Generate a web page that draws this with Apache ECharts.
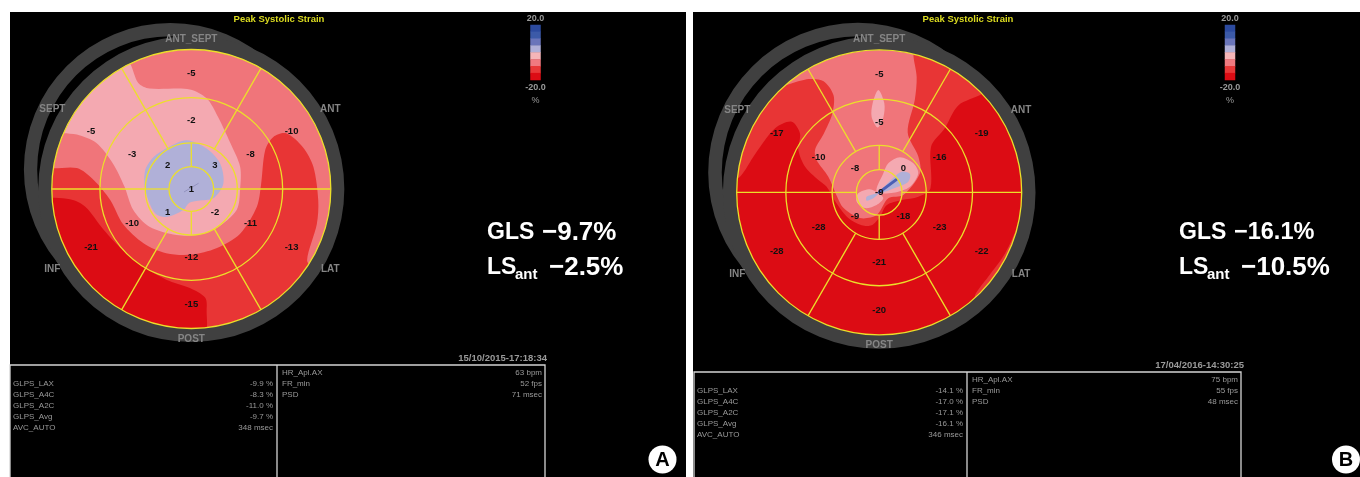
<!DOCTYPE html>
<html>
<head>
<meta charset="utf-8">
<style>
  html, body { margin: 0; padding: 0; background: #fff; }
  #chart { width: 1360px; height: 477px; }
</style>
<script src="https://cdn.jsdelivr.net/npm/echarts@6/dist/echarts.min.js"></script>
</head>
<body>
<div id="chart"></div>
<script>
// segment values, clockwise from the top of each ring
const basalA = [-5, -10, -13, -15, -21, -5]
const midA = [-2, -8, -11, -12, -10, -3]
const apicalA = [3, -2, 1, 2]
const apexA = [1]
const basalB = [-5, -19, -22, -20, -28, -17]
const midB = [-5, -16, -23, -21, -28, -10]
const apicalB = [0, -18, -9, -8]
const apexB = [-9]

const wallNames = ['ANT_SEPT', 'ANT', 'LAT', 'POST', 'INF', 'SEPT']
const scaleSteps = ['#2c4a9e', '#3c5aa8', '#6a75ba', '#b0b0d8', '#f5b5b8', '#f07a80', '#e83838', '#dc0c14']
const scaleEnds = ['20.0', '-20.0', '%']
const chartTitle = 'Peak Systolic Strain'

const leftLabels = ['GLPS_LAX', 'GLPS_A4C', 'GLPS_A2C', 'GLPS_Avg', 'AVC_AUTO']
const rightLabels = ['HR_Apl.AX', 'FR_min', 'PSD']
const leftValuesA = ['-9.9 %', '-8.3 %', '-11.0 %', '-9.7 %', '348 msec']
const rightValuesA = ['63 bpm', '52 fps', '71 msec']
const leftValuesB = ['-14.1 %', '-17.0 %', '-17.1 %', '-16.1 %', '346 msec']
const rightValuesB = ['75 bpm', '55 fps', '48 msec']

// strain isolines, x/y in percent of the outer radius
const darkA = [[-104, -8], [-87, -7.4], [-76, -12.7], [-63, -29], [-49, -44], [-34, -56], [-18, -65], [-1, -71], [10, -78], [11, -87], [9, -104], [-30, -101], [-60, -86], [-85, -60], [-100, -30]]
const salmonA = [[-104, 16], [-82, 15], [-70, 6.5], [-58, -8], [-49, -25], [-34, -39], [-18, -46], [0, -47], [18, -42.5], [35, -32], [47, -12.7], [50, 3], [53, 28], [59, 37.5], [68, 40], [80, 30], [87.5, 16], [91, -8], [90, -25], [83, -51], [88, -56], [103, -20], [100, 30], [80, 68], [40, 97], [-40, 97], [-80, 68], [-102, 30]]
const pinkA = [[-44, 90], [-38, 76], [-30, 72], [-1, 71.4], [11, 65], [19, 52], [28, 33], [35, 16], [35, 0], [32.5, -15], [18, -28], [4, -33], [-10.5, -33], [-30, -27], [-41.6, -15], [-48, 2], [-56, 18], [-68, 33], [-82, 39], [-92, 40], [-98, 42], [-84, 68], [-66, 86], [-50, 94]]
const lavenderA = [[-3.3, 35], [11, 29], [20.6, 18.4], [23, 4], [15.8, -6.7], [5, -8.4], [-1.4, -9.8], [-5.7, -15], [-17.6, -20], [-26, -17.4], [-33, -0.7], [-33, 13.6], [-27, 23], [-16.5, 30]]

const redB = [[-104, 10], [-97.7, 11], [-87, 27], [-73, 45], [-61.4, 49.6], [-55.6, 41.4], [-56.7, 29.7], [-52, 18], [-42.7, 8.7], [-36.9, 4], [-30, -7.7], [-21.7, -18], [-12.3, -23], [-5.3, -23], [0.6, -17], [5.2, -9], [15.8, -5.4], [27.5, -3], [36, 3], [36.4, 32], [46, 45], [55.5, 61], [72, 69], [78, 75], [40, 97], [0, 105], [-40, 97], [-78, 72], [-95, 42]]
const rimRedB = [[101, -5.4], [97.6, -21.8], [88.3, -42.8], [76.6, -59], [67, -73], [75, -73], [92, -50], [104, -22], [105, -3]]
const salmonB = [[-72, 74], [-49.7, 79.5], [-39, 78], [-32, 68], [-33, 55], [-39, 41], [-45, 30], [-44, 22.7], [-35.7, 11], [-30, -2], [-25, -11], [-13.5, -18], [-1.8, -15.9], [6.4, -4.1], [17, -1.8], [28.6, 13.4], [27.5, 25], [20, 42], [25, 65], [26.3, 81], [24, 97], [26, 103], [0, 105], [-30, 102], [-55, 88]]
const dropB = [[-0.6, 71.8], [-4.6, 62.5], [-5.3, 53], [-1, 45.6], [3, 53], [3.6, 62.5]]
const upperLobeB = [[-1.8, 0.5], [2.9, 13.4], [6.4, 20.4], [14.6, 24.6], [24, 20.4], [27.4, 13.4], [21.6, 4], [9.9, -0.2]]
const lowerLobeB = [[-0.6, -0.6], [2.9, -4.1], [-1.8, -8.8], [-10, -11], [-15.8, -6.5], [-14.7, -0.6], [-6.5, 2.2]]
const upperBlueB = [[0.6, -0.2], [8.8, 9.2], [15.8, 14.5], [21.6, 12.9], [20.4, 7.5], [12.3, 3.6]]
const lowerBlueB = [[-0.6, -0.6], [-4.1, -4.1], [-8.8, -5.8], [-8.8, -3]]

const RED = '#e83535'
const DARK = '#dc0c14'
const SALMON = '#f0757a'
const PINK = '#f4a9b1'
const LAVENDER = '#b0b0d8'
const GRAY = '#404040'
const YELLOW = '#ecdf2a'
const BOX = '#d4d4d4'
const TXT = '#9a9a9a'

const panels = [
  {
    cx: 191.3, cy: 189, R: 139.5, base: RED,
    basal: basalA, mid: midA, apical: apicalA, apex: apexA,
    contours: [[darkA, DARK], [salmonA, SALMON], [pinkA, PINK], [lavenderA, LAVENDER]],
    streak: { color: '#8a8ab8', width: 0.8, from: [-5, -2], to: [5, 4] },
    bg: [10, 12, 676, 465], titleX: 279, scaleX: 535.5,
    stamp: '15/10/2015-17:18:34', stampX: 547, stampY: 358,
    box: [10, 365, 277, 545], leftV: leftValuesA, rightV: rightValuesA, rowsL: 383.5, rowsR: 372.5,
    gls: ['\u22129.7%', '\u22122.5%'], glsSize: 26, glsX: 487, badge: 'A', badgeX: 662.5
  },
  {
    cx: 879.2, cy: 192.4, R: 142.5, base: DARK,
    basal: basalB, mid: midB, apical: apicalB, apex: apexB,
    contours: [[redB, RED], [rimRedB, RED], [salmonB, SALMON], [dropB, PINK], [upperLobeB, PINK], [lowerLobeB, PINK], [upperBlueB, LAVENDER], [lowerBlueB, LAVENDER]],
    streak: { color: '#4a5fb5', width: 3, from: [0, 0], to: [12, 9] },
    bg: [693, 12, 667, 465], titleX: 968, scaleX: 1230,
    stamp: '17/04/2016-14:30:25', stampX: 1244, stampY: 365,
    box: [694, 372, 967, 1241], leftV: leftValuesB, rightV: rightValuesB, rowsL: 390.5, rowsR: 379.5,
    gls: ['\u221216.1%', '\u221210.5%'], glsSize: 23.5, glsX: 1179, badge: 'B', badgeX: 1346
  }
]

const ringEdges = [16, 33, 65.5, 100]
const grids = []
const xAxes = []
const yAxes = []
const series = []
const graphics = []

function polar (r, deg) {
  const a = deg * Math.PI / 180
  return [r * Math.sin(a), r * Math.cos(a)]
}

function customSeries (idx, z, items, draw) {
  series.push({
    type: 'custom',
    xAxisIndex: idx,
    yAxisIndex: idx,
    z: z,
    silent: true,
    clip: false,
    data: items.map((d, i) => [i]),
    renderItem: (params, api) => draw(items[api.value(0)], api)
  })
}

function text (str, x, y, fill, font, align) {
  graphics.push({
    type: 'text',
    x: x,
    y: y,
    silent: true,
    z: 20,
    style: { text: str, fill: fill, font: font, align: align || 'left', verticalAlign: 'middle' }
  })
}

panels.forEach((p) => {
  graphics.push({ type: 'rect', z: -1, silent: true, shape: { x: p.bg[0], y: p.bg[1], width: p.bg[2], height: p.bg[3] }, style: { fill: '#000' } })
})

panels.forEach((p, i) => {
  const span = 125
  const px = p.R / 100
  grids.push({ left: p.cx - span * px, top: p.cy - span * px, width: 2 * span * px, height: 2 * span * px })
  xAxes.push({ type: 'value', min: -span, max: span, show: false, gridIndex: grids.length - 1 })
  yAxes.push({ type: 'value', min: -span, max: span, show: false, gridIndex: grids.length - 1 })
  const idx = grids.length - 1

  const circle = (api, c, r) => {
    const o = api.coord(c)
    return [o[0], o[1], api.size([r, 0])[0]]
  }
  const ring = (c, r0, r1) => (d, api) => {
    const k = circle(api, c, r1)
    return { type: 'ring', shape: { cx: k[0], cy: k[1], r: k[2], r0: api.size([r0, 0])[0] }, style: { fill: GRAY } }
  }

  // grey myocardium band, second offset arc sits behind the disc
  customSeries(idx, 1, [0], ring([-15, 14], 95.5, 105))
  customSeries(idx, 2, [0], (d, api) => {
    const k = circle(api, [0, 0], 100)
    return { type: 'circle', shape: { cx: k[0], cy: k[1], r: k[2] }, style: { fill: p.base } }
  })
  customSeries(idx, 3, p.contours, (c, api) => ({
    type: 'polygon',
    shape: { points: c[0].map((pt) => api.coord(pt)), smooth: 0.3 },
    style: { fill: c[1] }
  }))
  customSeries(idx, 4, [p.streak], (s, api) => ({
    type: 'line',
    shape: { x1: api.coord(s.from)[0], y1: api.coord(s.from)[1], x2: api.coord(s.to)[0], y2: api.coord(s.to)[1] },
    style: { stroke: s.color, lineWidth: s.width, lineCap: 'round' }
  }))
  customSeries(idx, 5, [0], ring([0, 0], 100, 109.7))

  // rings and spokes
  customSeries(idx, 6, ringEdges, (r, api) => {
    const k = circle(api, [0, 0], r)
    return { type: 'circle', shape: { cx: k[0], cy: k[1], r: k[2] }, style: { fill: 'none', stroke: YELLOW, lineWidth: 1.3 } }
  })
  const spokes = []
  for (let a = 0; a < 360; a += 60) spokes.push([polar(33, a + 30), polar(100, a + 30)])
  for (let a = 0; a < 360; a += 90) spokes.push([polar(16, a), polar(33, a)])
  customSeries(idx, 6, spokes, (s, api) => {
    const a = api.coord(s[0])
    const b = api.coord(s[1])
    return { type: 'line', shape: { x1: a[0], y1: a[1], x2: b[0], y2: b[1] }, style: { stroke: YELLOW, lineWidth: 1.3 } }
  })

  // value labels
  const labels = []
  p.basal.forEach((v, k) => labels.push([v, polar(83, k * 60)]))
  p.mid.forEach((v, k) => labels.push([v, polar(49, k * 60)]))
  p.apical.forEach((v, k) => labels.push([v, polar(24, 45 + k * 90)]))
  labels.push([p.apex[0], [0, 0]])
  customSeries(idx, 7, labels, (l, api) => {
    const o = api.coord(l[1])
    return { type: 'text', x: o[0], y: o[1], style: { text: String(l[0]), fill: '#111', font: 'bold 9.5px "Liberation Sans"', align: 'center', verticalAlign: 'middle' } }
  })
  const names = wallNames.map((n, k) => [n, polar(k % 3 === 0 ? 107.5 : 115, k * 60)])
  customSeries(idx, 7, names, (l, api) => {
    const o = api.coord(l[1])
    return { type: 'text', x: o[0], y: o[1], style: { text: l[0], fill: '#858585', font: 'bold 10px "Liberation Sans"', align: 'center', verticalAlign: 'middle' } }
  })

  // colour scale
  grids.push({ left: p.scaleX - 5, top: 25, width: 10, height: 55 })
  xAxes.push({ type: 'category', data: ['s'], show: false, gridIndex: grids.length - 1 })
  yAxes.push({ type: 'category', data: scaleSteps.map((c, k) => k), inverse: true, show: false, gridIndex: grids.length - 1 })
  series.push({
    type: 'heatmap',
    xAxisIndex: grids.length - 1,
    yAxisIndex: grids.length - 1,
    silent: true,
    data: scaleSteps.map((c, k) => ({ value: [0, k, k], itemStyle: { color: c } }))
  })
  text(scaleEnds[0], p.scaleX, 19, TXT, 'bold 9px "Liberation Sans"', 'center')
  text(scaleEnds[1], p.scaleX, 88, TXT, 'bold 9px "Liberation Sans"', 'center')
  text(scaleEnds[2], p.scaleX, 101, TXT, '9px "Liberation Sans"', 'center')

  text(chartTitle, p.titleX, 19, '#dcdc20', 'bold 9.5px "Liberation Sans"', 'center')
  text(p.stamp, p.stampX, p.stampY, TXT, 'bold 9.5px "Liberation Sans"', 'right')

  // parameter boxes
  const b = p.box
  graphics.push({ type: 'polyline', silent: true, z: 19, shape: { points: [[b[0], 478], [b[0], b[1]], [b[3], b[1]], [b[3], 478]] }, style: { fill: 'none', stroke: BOX, lineWidth: 1.3 } })
  graphics.push({ type: 'line', silent: true, z: 19, shape: { x1: b[2], y1: b[1], x2: b[2], y2: 478 }, style: { stroke: BOX, lineWidth: 1.3 } })
  const tableFont = '8px "Liberation Sans"'
  leftLabels.forEach((s, k) => {
    text(s, b[0] + 3, p.rowsL + k * 11, TXT, tableFont)
    text(p.leftV[k], b[2] - 4, p.rowsL + k * 11, TXT, tableFont, 'right')
  })
  rightLabels.forEach((s, k) => {
    text(s, b[2] + 5, p.rowsR + k * 11, TXT, tableFont)
    text(p.rightV[k], b[3] - 3, p.rowsR + k * 11, TXT, tableFont, 'right')
  })

  // journal annotation
  const bold = 'bold 23px "Liberation Sans"'
  text('GLS', p.glsX, 233, '#fff', bold)
  text(p.gls[0], p.glsX + 55, 233, '#fff', 'bold ' + p.glsSize + 'px "Liberation Sans"')
  text('LS', p.glsX, 268, '#fff', bold)
  text('ant', p.glsX + 28, 275, '#fff', 'bold 15px "Liberation Sans"')
  text(p.gls[1], p.glsX + 62, 268, '#fff', 'bold 26px "Liberation Sans"')

  graphics.push({ type: 'circle', silent: true, z: 20, shape: { cx: p.badgeX, cy: 459.5, r: 14 }, style: { fill: '#fff' } })
  text(p.badge, p.badgeX, 460.5, '#000', 'bold 20px "Liberation Sans"', 'center')
})

const chart = echarts.init(document.getElementById('chart'), null, { renderer: 'canvas' })
chart.setOption({
  animation: false,
  backgroundColor: '#fff',
  tooltip: { show: false },
  grid: grids,
  xAxis: xAxes,
  yAxis: yAxes,
  series: series,
  graphic: graphics
})
</script>
</body>
</html>
